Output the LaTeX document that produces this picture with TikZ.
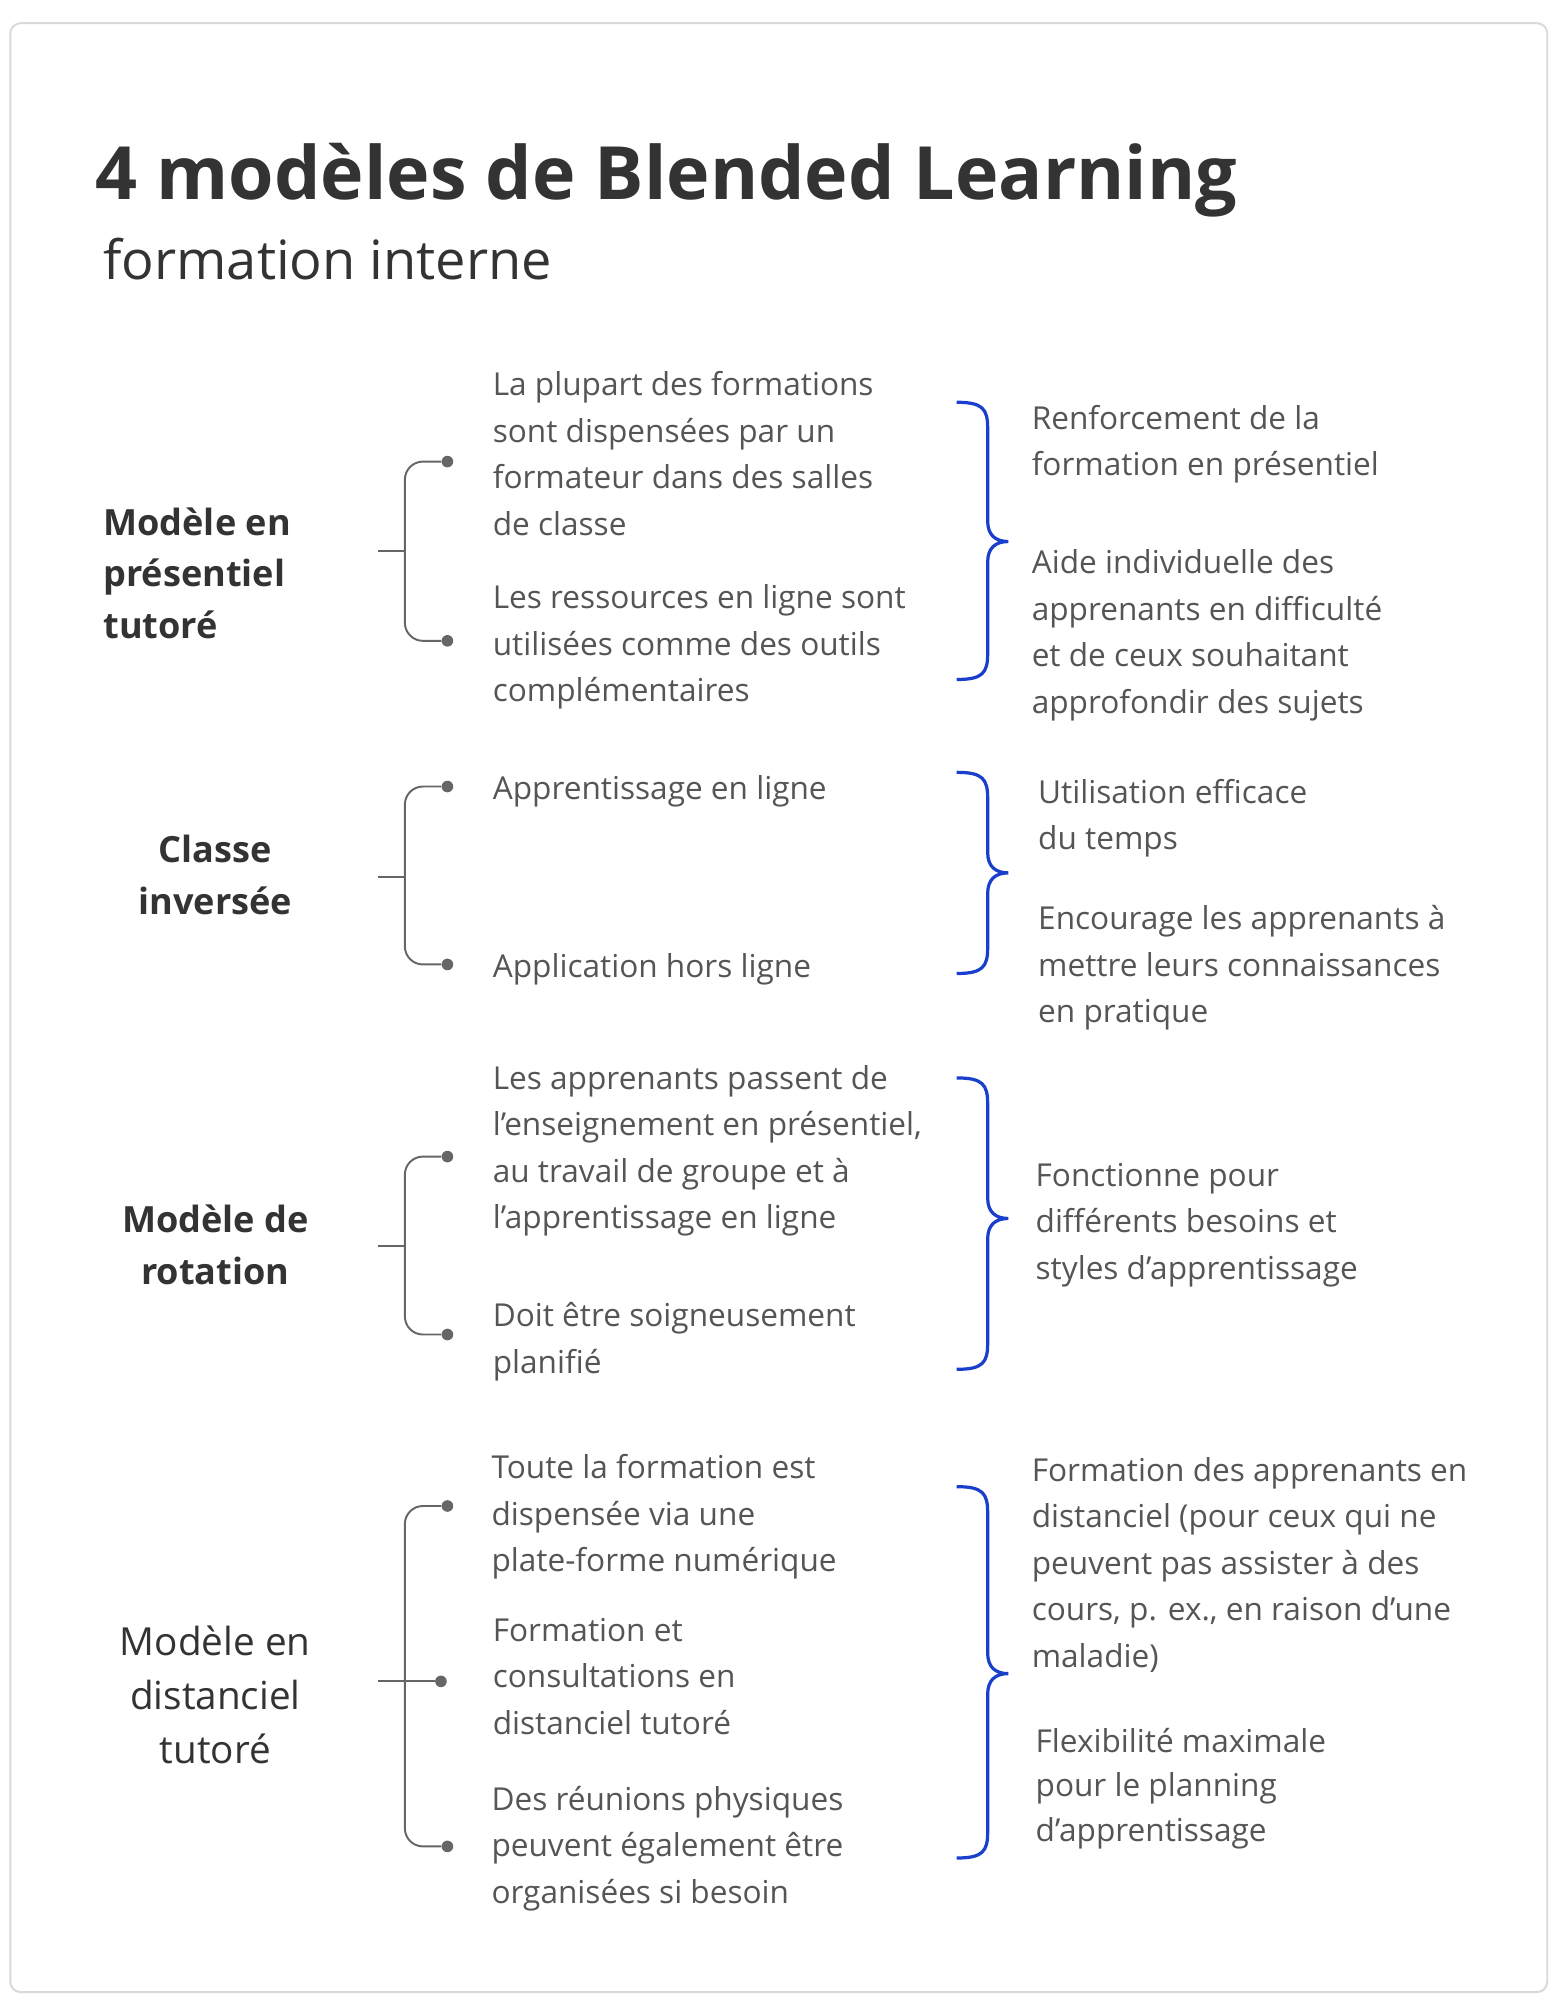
\documentclass[tikz,border=0pt]{standalone}
\usepackage{fontspec}
\setmainfont{Open Sans}
\definecolor{txt}{HTML}{555555}
\definecolor{dark}{HTML}{333333}
\definecolor{blu}{HTML}{1A3FCC}
\definecolor{brk}{HTML}{666666}
\newcommand{\mysect}[4]{%
 \coordinate (#1h) at (293,#2);
 \node[dot] (#1a) at (347,#3) {};
 \node[dot] (#1b) at (347,#4) {};
 \draw[brk] (#1a) -- (314,#3) -- (314,#4) -- (#1b);
 \draw[draw=brk,line width=1.5pt] (#1h) -- (314,#2);
}
\newcommand{\mybrace}[4]{%
 \coordinate (#1t) at (742,#2);
 \coordinate (#1e) at (742,#4);
 \draw[brc] (#1t) .. controls (762,#2) and (766,#2+5) .. (766,#2+20) -- (766,#3-16) .. controls (766,#3-5) and (772,#3) .. (782,#3) .. controls (772,#3) and (766,#3+5) .. (766,#3+16) -- (766,#4-20) .. controls (766,#4-5) and (762,#4) .. (#1e);
}
\begin{document}
\begin{tikzpicture}[x=1pt,y=-1pt,
 body/.style={anchor=base west,align=left,inner sep=0,text=txt,font=\fontsize{24.5}{36}\selectfont},
 lab/.style={anchor=base,align=center,inner sep=0,text=dark,font=\fontsize{28}{40}\selectfont\bfseries},
 dot/.style={circle,fill=brk,inner sep=0,minimum size=9pt},
 brk/.style={draw=brk,line width=1.5pt,rounded corners=14pt},
 brc/.style={draw=blu,line width=2.5pt}]
\useasboundingbox (0,0) rectangle (1210,1562);
\fill[white] (0,0) rectangle (1210,1562);
\draw[draw=black!15,line width=1.5pt,rounded corners=8pt,fill=white] (8,18) rectangle (1200,1545);
\node[anchor=base west,inner sep=0,text=dark,font=\fontsize{57}{70}\selectfont\bfseries] (title) at (74,155) {4 modèles de Blended Learning};
\node[anchor=base west,inner sep=0,text=dark,font=\fontsize{42}{50}\selectfont] (sub) at (80,217) {formation interne};
% Section 1
\node[lab,anchor=base west,align=left] (l1) at (80,495) {Modèle en\\présentiel\\tutoré};
\mysect{s1}{427}{358}{497}
\node[body] (t1a) at (382,415) {La plupart des formations\\sont dispensées par un\\formateur dans des salles\\de classe};
\node[body] (t1b) at (382,544) {Les ressources en ligne sont\\utilisées comme des outils\\complémentaires};
\mybrace{b1}{312}{420}{527}
\node[body] (r1a) at (800,369) {Renforcement de la\\formation en présentiel};
\node[body] (r1b) at (800,553) {Aide individuelle des\\apprenants en difficulté\\et de ceux souhaitant\\approfondir des sujets};
% Section 2
\node[lab] (l2) at (167,709) {Classe\\inversée};
\mysect{s2}{680}{610}{748}
\node[body] (t2a) at (382,620) {Apprentissage en ligne};
\node[body] (t2b) at (382,758) {Application hors ligne};
\mybrace{b2}{599}{677}{755}
\node[body] (r2a) at (805,659) {Utilisation efficace\\du temps};
\node[body] (r2b) at (805,793) {Encourage les apprenants à\\mettre leurs connaissances\\en pratique};
% Section 3
\node[lab] (l3) at (167,996) {Modèle de\\rotation};
\mysect{s3}{966}{897}{1035}
\node[body] (t3a) at (382,953) {Les apprenants passent de\\l’enseignement en présentiel,\\au travail de groupe et à\\l’apprentissage en ligne};
\node[body] (t3b) at (382,1065) {Doit être soigneusement\\planifié};
\mybrace{b3}{836}{945}{1062}
\node[body] (r3) at (803,992) {Fonctionne pour\\différents besoins et\\styles d’apprentissage};
% Section 4
\node[lab,font=\fontsize{30}{42}\selectfont] (l4) at (167,1368) {Modèle en\\distanciel\\tutoré};
\mysect{s4}{1304}{1168}{1432}
\node[dot] (s4c) at (342,1304) {};
\draw[draw=brk,line width=1.5pt] (314,1304) -- (s4c);
\node[body] (t4a) at (381,1219) {Toute la formation est\\dispensée via une\\plate-forme numérique};
\node[body] (t4b) at (382,1345) {Formation et\\consultations en\\distanciel tutoré};
\node[body] (t4c) at (381,1476) {Des réunions physiques\\peuvent également être\\organisées si besoin};
\mybrace{b4}{1153}{1298}{1441}
\node[body] (r4a) at (800,1293) {Formation des apprenants en\\distanciel (pour ceux qui ne\\peuvent pas assister à des\\cours, p. ex., en raison d’une\\maladie)};
\node[body,font=\fontsize{24.5}{34.5}\selectfont] (r4b) at (803,1428) {Flexibilité maximale\\pour le planning\\d’apprentissage};
\end{tikzpicture}
\end{document}
